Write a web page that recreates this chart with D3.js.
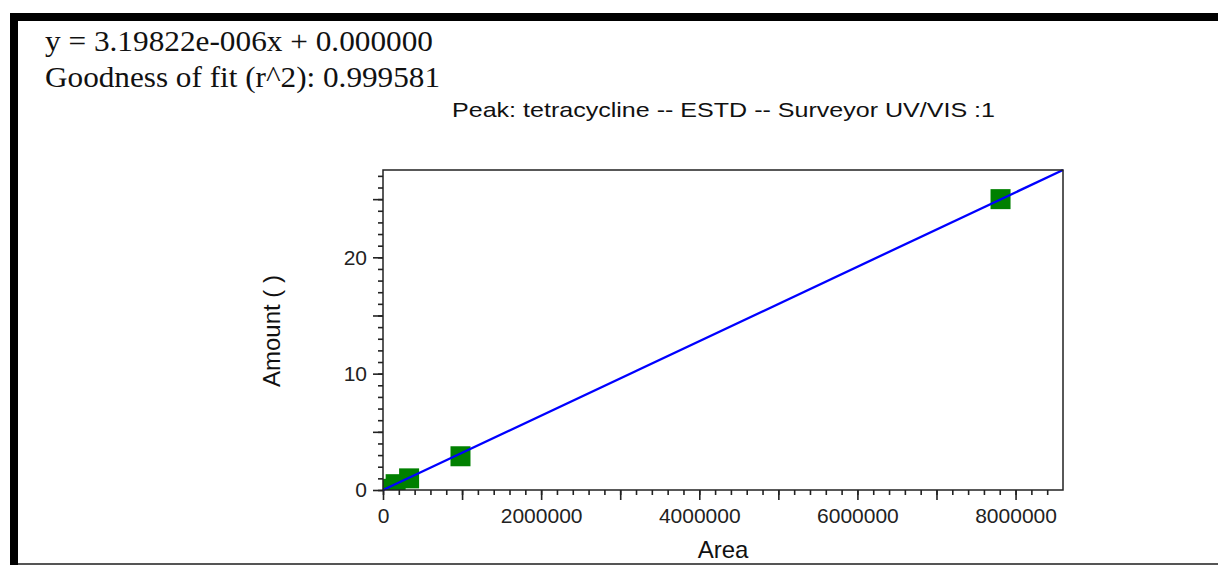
<!DOCTYPE html>
<html lang="en">
<head>
    <meta charset="UTF-8">
    <title>Calibration curve</title>
    <script src="https://cdn.jsdelivr.net/npm/d3@7/dist/d3.min.js"></script>
    <style>
        body { margin: 0; background: #fff; }
        svg { display: block; }
        .axis path { display: none; }
        .axis line { stroke: #222; stroke-width: 1.6; }
        .axis text { font-family: "Liberation Sans", Arial, sans-serif; font-size: 21px; fill: #222; }
    </style>
</head>
<body>
    <svg width=1218 height=565></svg>
    <script>
        // calibration points (area, amount)
        var areas = [40000, 160000, 330000, 980000, 7810000],
            amounts = [0.1, 0.5, 1, 2.9, 25],
            slope = 3.19822e-6,
            intercept = 0,
            r2 = 0.999581,
            xMajorTicks = [0, 2000000, 4000000, 6000000, 8000000],
            yMajorTicks = [0, 10, 20],
            xMax = 8600000,
            yMax = slope * xMax + intercept;

        var svg = d3.select('svg'),
            width = parseInt(svg.attr('width')),
            height = parseInt(svg.attr('height')),
            margin = { top: 170, right: 155, bottom: 75, left: 383 },
            chartWidth = width - margin.left - margin.right,
            chartHeight = height - margin.top - margin.bottom,
            xScale = d3.scaleLinear().domain([0, xMax]).range([0, chartWidth]),
            yScale = d3.scaleLinear().domain([0, yMax]).range([chartHeight, 0]);

        // page frame
        svg.append('rect').attr('x', 10).attr('y', 13).attr('width', width - 10).attr('height', 8).attr('fill', '#000');
        svg.append('rect').attr('x', 10).attr('y', 13).attr('width', 8).attr('height', height - 13).attr('fill', '#000');
        svg.append('rect').attr('x', 18).attr('y', height - 2).attr('width', width - 18).attr('height', 2).attr('fill', '#555');

        // equation text (reference rendering is wider than the local fonts)
        svg.append('text')
            .attr('x', 45).attr('y', 51)
            .attr('textLength', 388).attr('lengthAdjust', 'spacingAndGlyphs')
            .style('font-family', '"Liberation Serif", "Times New Roman", serif')
            .style('font-size', '29px')
            .style('fill', '#111')
            .text('y = ' + slope.toExponential(5).replace('e-6', 'e-006') + 'x + ' + intercept.toFixed(6));
        svg.append('text')
            .attr('x', 45).attr('y', 87)
            .attr('textLength', 395).attr('lengthAdjust', 'spacingAndGlyphs')
            .style('font-family', '"Liberation Serif", "Times New Roman", serif')
            .style('font-size', '29px')
            .style('fill', '#111')
            .text('Goodness of fit (r^2): ' + r2.toFixed(6));

        svg.append('text')
            .attr('x', 452).attr('y', 117)
            .attr('textLength', 543).attr('lengthAdjust', 'spacingAndGlyphs')
            .style('font-family', '"Liberation Sans", Arial, sans-serif')
            .style('font-size', '21px')
            .style('fill', '#111')
            .text('Peak: tetracycline -- ESTD -- Surveyor UV/VIS :1');

        var chartG = svg.append('g')
            .attr('transform', 'translate(' + [margin.left, margin.top] + ')');

        // minor ticks
        chartG.append('g')
            .classed('axis', true)
            .attr('transform', 'translate(' + [0, chartHeight] + ')')
            .call(d3.axisBottom(xScale).tickValues(d3.range(0, xMax, 200000)).tickSize(5).tickFormat(''));
        chartG.append('g')
            .classed('axis', true)
            .call(d3.axisLeft(yScale).tickValues(d3.range(0, yMax, 1)).tickSize(5).tickFormat(''));

        // long ticks with labels
        chartG.append('g')
            .classed('axis', true)
            .attr('transform', 'translate(' + [0, chartHeight] + ')')
            .call(d3.axisBottom(xScale).tickValues(d3.range(0, xMax, 1000000)).tickSize(10).tickPadding(8)
                .tickFormat(function(d) { return xMajorTicks.indexOf(d) >= 0 ? d : ''; }));
        chartG.append('g')
            .classed('axis', true)
            .call(d3.axisLeft(yScale).tickValues(d3.range(0, yMax, 5)).tickSize(10).tickPadding(6)
                .tickFormat(function(d) { return yMajorTicks.indexOf(d) >= 0 ? d : ''; }));

        // clip for points
        svg.append('defs').append('clipPath').attr('id', 'plotClip')
            .append('rect').attr('width', chartWidth).attr('height', chartHeight);

        chartG.append('g')
            .attr('clip-path', 'url(#plotClip)')
            .selectAll('rect')
            .data(areas)
            .enter()
            .append('rect')
            .attr('x', function(d) { return xScale(d) - 10; })
            .attr('y', function(d, i) { return yScale(amounts[i]) - 10; })
            .attr('width', 20)
            .attr('height', 20)
            .attr('fill', '#008000');

        var lineG = d3.line()
            .x(function(d) { return xScale(d); })
            .y(function(d) { return yScale(slope * d + intercept); });

        chartG.append('path')
            .datum([0, xMax])
            .attr('d', lineG)
            .attr('fill', 'none')
            .attr('stroke', '#0000ff')
            .attr('stroke-width', 2.3);

        // frame
        chartG.append('rect')
            .attr('width', chartWidth)
            .attr('height', chartHeight)
            .attr('fill', 'none')
            .attr('stroke', '#222')
            .attr('stroke-width', 1.5);

        // axis titles
        svg.append('text')
            .attr('x', margin.left + chartWidth / 2)
            .attr('y', 558)
            .attr('text-anchor', 'middle')
            .style('font-family', '"Liberation Sans", Arial, sans-serif')
            .style('font-size', '24px')
            .style('fill', '#111')
            .text('Area');
        svg.append('text')
            .attr('transform', 'translate(' + [280, 331] + ') rotate(-90)')
            .attr('text-anchor', 'middle')
            .style('font-family', '"Liberation Sans", Arial, sans-serif')
            .style('font-size', '24px')
            .style('fill', '#111')
            .text('Amount (  )');
    </script>
</body>
</html>
